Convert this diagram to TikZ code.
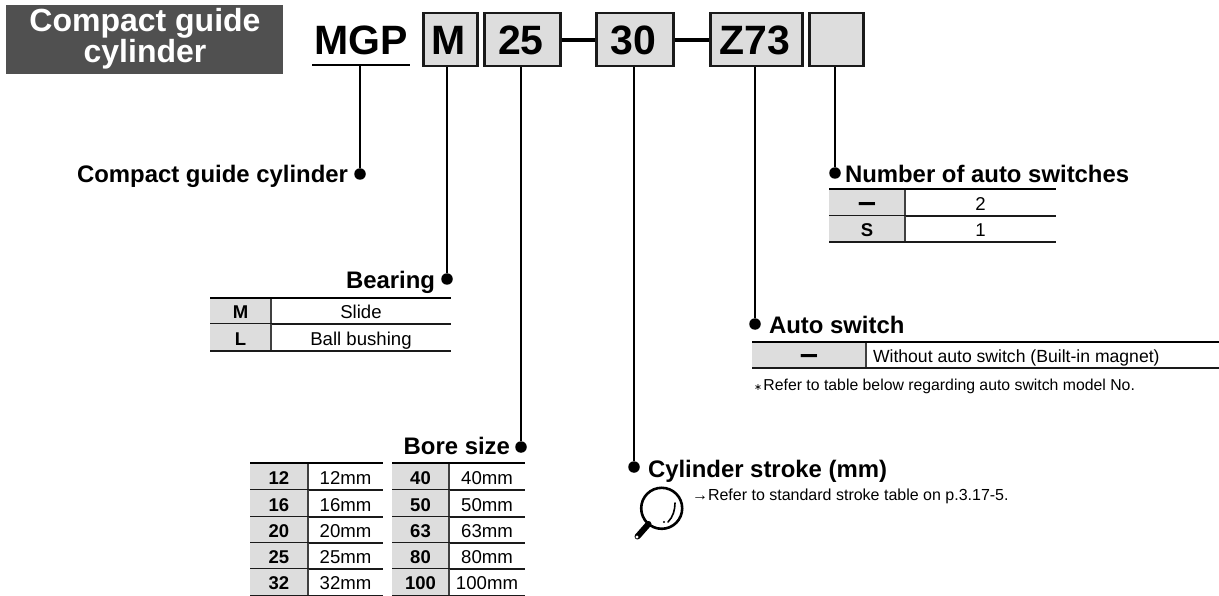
\documentclass[tikz,border=0pt]{standalone}
\usepackage{fontspec}
\setmainfont{Liberation Sans}
\newfontfamily\symfont{DejaVu Sans}
\newcounter{cellno}
\definecolor{keygray}{HTML}{DDDDDD}
\definecolor{titlegray}{HTML}{505050}
\definecolor{linedark}{HTML}{1A1A1A}
\newcommand{\fs}[1]{\fontsize{#1}{#1}\selectfont}
\newcommand{\bdash}{\raisebox{-2pt}{\scalebox{.88}[1.7]{—}}}
\tikzset{
  x=1pt,y=-1pt,
  plain/.style={inner sep=0pt,outer sep=0pt,anchor=base},
  headtext/.style={plain,font=\fs{23.9}\bfseries,text=black},
  bigtext/.style={plain,font=\fs{41}\bfseries,text=black},
  titletext/.style={plain,font=\fs{32}\bfseries,text=white},
  keytext/.style={plain,font=\fs{18.5}\bfseries,text=black},
  valtext/.style={plain,font=\fs{18.6},text=black},
  codebox/.style={draw=linedark,line width=2.5pt,fill=keygray,inner sep=0pt,anchor=north west},
  pin/.style={circle,fill=black,inner sep=0pt,minimum size=11.5pt,outer sep=0pt},
  leader/.style={draw=black,line width=2.4pt},
  joiner/.style={draw=black,line width=4pt},
  rulethick/.style={draw=black,line width=2.6pt},
  rulethin/.style={draw=linedark,line width=1.2pt},
  splitline/.style={draw=black!75,line width=1.3pt},
}
\newcommand{\tabrow}[7]{%
  \stepcounter{cellno}%
  \fill[keygray] (#1,#4) rectangle (#2,#5);
  \draw[splitline] (#2,#4) -- (#2,#5);
  \draw[rulethin] (#1,#5) -- (#3,#5);
  \node[keytext,yshift=5.8pt] (k\arabic{cellno}) at ({(#1+#2)/2},#5) {#6};
  \node[valtext,yshift=5.8pt] (v\arabic{cellno}) at ({(#2+#3)/2},#5) {#7};
}
\begin{document}
\begin{tikzpicture}
\useasboundingbox (0,0) rectangle (1219,596);
% title
\fill[titlegray] (6,5) rectangle (283,74);
\node[titletext] (t1) at (145,31.5) {Compact guide};
\node[titletext] (t2) at (145,63) {cylinder};
% code
\node[bigtext] (mgp) at (361,55) {MGP};
\coordinate (mgpL) at (312,65);
\coordinate (mgpR) at (410,65);
\draw[leader] (mgpL) -- (mgpR);
\node[codebox,minimum width=54pt,minimum height=53pt] (bM) at (422,12) {};
\node[codebox,minimum width=76pt,minimum height=53pt] (b25) at (483,12) {};
\node[codebox,minimum width=77pt,minimum height=53pt] (b30) at (595,12) {};
\node[codebox,minimum width=92pt,minimum height=53pt] (bZ) at (709,12) {};
\node[codebox,minimum width=54pt,minimum height=53pt] (bN) at (808,12) {};
\node[bigtext] (tM) at (449,55) {M};
\node[bigtext] (t25) at (521,54.5) {25};
\node[bigtext] (t30) at (633.5,54.5) {30};
\node[bigtext] (tZ) at (755,54.5) {Z73};
\draw[joiner] (b25.east) -- (b30.west);
\draw[joiner] (b30.east) -- (bZ.west);
% pins
\node[pin] (p1) at (360,174) {};
\node[pin] (p2) at (447,279) {};
\node[pin] (p3) at (521,447) {};
\node[pin] (p4) at (634,467) {};
\node[pin] (p5) at (755,324) {};
\node[pin] (p6) at (835,173) {};
\draw[leader] (mgpL -| p1) -- (p1);
\draw[leader] (bM.south -| p2) -- (p2);
\draw[leader] (b25.south -| p3) -- (p3);
\draw[leader] (b30.south -| p4) -- (p4);
\draw[leader] (bZ.south -| p5) -- (p5);
\draw[leader] (bN.south -| p6) -- (p6);
% headings
\node[headtext,anchor=base east] (h1) at (348,182.7) {Compact guide cylinder};
\node[headtext,anchor=base east] (h2) at (435,288.7) {Bearing};
\node[headtext,anchor=base east] (h3) at (510,454.7) {Bore size};
\node[headtext,anchor=base west] (h4) at (648,477.7) {Cylinder stroke (mm)};
\node[headtext,anchor=base west] (h5) at (769,333.7) {Auto switch};
\node[headtext,anchor=base west] (h6) at (845,182.7) {Number of auto switches};
% bearing
\tabrow{210}{271}{451}{298}{324}{M}{Slide}
\tabrow{210}{271}{451}{324}{351}{L}{Ball bushing}
\draw[rulethick] (210,298) -- (451,298);
% bore
\tabrow{250}{308}{383}{463}{490}{12}{12mm}
\tabrow{250}{308}{383}{490}{517}{16}{16mm}
\tabrow{250}{308}{383}{517}{543}{20}{20mm}
\tabrow{250}{308}{383}{543}{569}{25}{25mm}
\tabrow{250}{308}{383}{569}{595.5}{32}{32mm}
\draw[rulethick] (250,463) -- (383,463);
\tabrow{392}{449}{525}{463}{490}{40}{40mm}
\tabrow{392}{449}{525}{490}{517}{50}{50mm}
\tabrow{392}{449}{525}{517}{543}{63}{63mm}
\tabrow{392}{449}{525}{543}{569}{80}{80mm}
\tabrow{392}{449}{525}{569}{595.5}{100}{100mm}
\draw[rulethick] (392,463) -- (525,463);
% number of switches
\tabrow{829}{905}{1056}{189}{216}{\bdash}{2}
\tabrow{829}{905}{1056}{216}{242}{S}{1}
\draw[rulethick] (829,189) -- (1056,189);
% auto switch
\tabrow{752}{866}{1219}{342}{368}{\bdash}{}
\draw[rulethick] (752,342) -- (1219,342);
\node[plain,anchor=base west,font=\fs{17.6}] (w1) at (873,362) {Without auto switch (Built-in magnet)};
\node[plain,anchor=base west,font=\fs{15.8}] (n1) at (754,390) {{\symfont\fontsize{9.5}{9.5}\selectfont ∗}\hspace{1.5pt}Refer to table below regarding auto switch model No.};
% stroke note
\node[plain,anchor=base west,font=\fs{16}] (n2) at (692,500) {→Refer to standard stroke table on p.3.17-5.};
% magnifier
\draw[black,line width=2.6pt] (661.7,508.3) circle (20.5);
\draw[black,line width=1.6pt,line cap=round] (675,503) .. controls (675,510) and (673,517) .. (668,522);
\fill[black] (664,522) circle (1.2);
\draw[black,line width=6pt,line cap=round] (648.5,524) -- (637.5,536.5);
\fill[white] (637,537) circle (1.7);
\end{tikzpicture}
\end{document}
